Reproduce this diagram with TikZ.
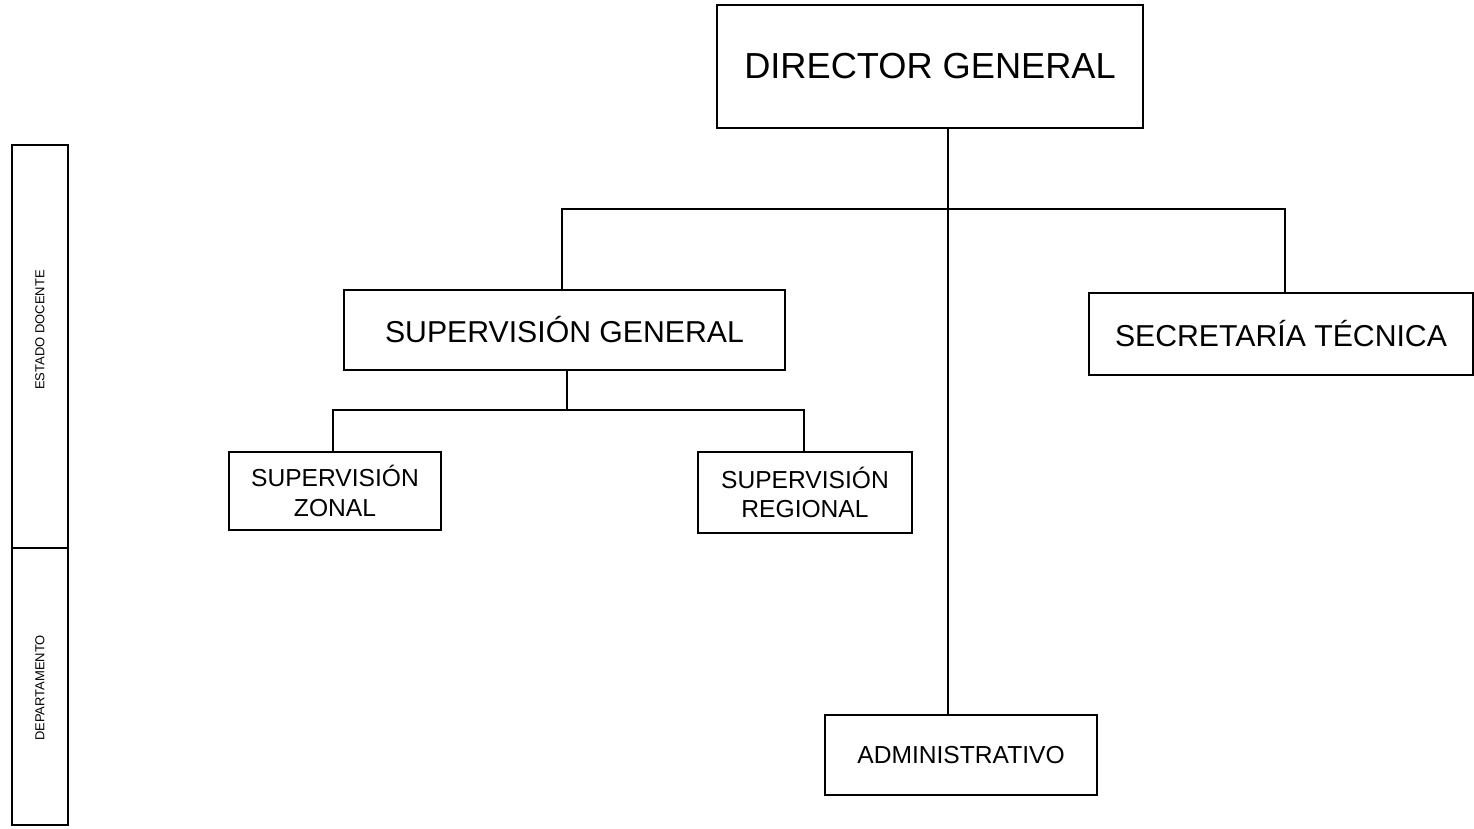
\documentclass[tikz,border=0pt]{standalone}
\usepackage{fontspec}
\setmainfont{Liberation Sans}
\usetikzlibrary{calc}
\newcommand{\fsz}[1]{\fontsize{#1}{1.2\dimexpr#1\relax}\selectfont}

\begin{document}
\begin{tikzpicture}[
    x = 0.2mm, y = -0.2mm,
    line width = 0.7pt,
    unit/.style = {draw, line width=0.7pt, inner sep=0pt, outer sep=0mm,
        align=center},
    bigunit/.style = {unit, font=\fsz{17.2pt}},
    smallunit/.style = {unit, font=\fsz{14pt}},
    sidelabel/.style = {rotate=90, font=\fsz{7.4pt}}
  ]
  \useasboundingbox (0,0) rectangle (1474,828);

  % boxes
  \node[unit, font=\fsz{20.6pt}, minimum width=8.52cm, minimum height=2.46cm]
    (dir) at (930,66.5) {DIRECTOR GENERAL};
  \node[bigunit, minimum width=8.82cm, minimum height=1.6cm]
    (sg) at (564.5,330) {SUPERVISIÓN GENERAL};
  \node[bigunit, minimum width=7.68cm, minimum height=1.64cm]
    (st) at (1281,334) {SECRETARÍA TÉCNICA};
  \node[smallunit, minimum width=4.24cm, minimum height=1.56cm]
    (sz) at (335,491) {SUPERVISIÓN\\ZONAL};
  \node[smallunit, minimum width=4.28cm, minimum height=1.62cm]
    (sr) at (805,492.5) {SUPERVISIÓN\\REGIONAL};
  \node[smallunit, minimum width=5.44cm, minimum height=1.6cm]
    (adm) at (961,755) {ADMINISTRATIVO};

  % side bar
  \draw (12,145) rectangle (68,825);
  \draw (12,548) -- (68,548);
  \node[sidelabel] (ed) at (40,330) {ESTADO DOCENTE};
  \node[sidelabel] (dep) at (40,688) {DEPARTAMENTO};

  % connectors
  \coordinate (trunk) at (948,0);
  \coordinate (busL) at (562,209);
  \coordinate (busR) at (1285,209);
  \coordinate (subL) at (333,410);
  \coordinate (subR) at (804,410);
  \coordinate (sgout) at (567,0);

  \draw (trunk |- dir.south) -- (trunk |- adm.north);
  \draw (busL |- sg.north) -- (busL) -- (busR) -- (busR |- st.north);
  \draw (sgout |- sg.south) -- (sgout |- subL);
  \draw (subL |- sz.north) -- (subL) -- (subR) -- (subR |- sr.north);
\end{tikzpicture}
\end{document}
